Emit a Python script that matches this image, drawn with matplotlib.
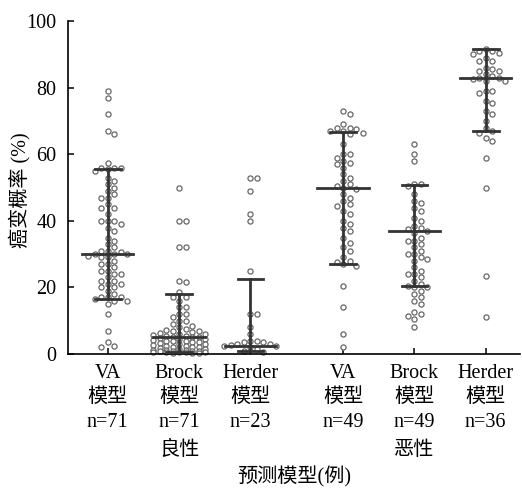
import numpy as np
import matplotlib.pyplot as plt
from matplotlib.transforms import blended_transform_factory

plt.rcParams['font.family'] = ['Liberation Serif', 'Noto Sans CJK SC']
plt.rcParams['font.size'] = 14.5

# 模型与样本数
models = ['VA', 'Brock', 'Herder', 'VA', 'Brock', 'Herder']
counts = [71, 71, 23, 49, 49, 36]
groups = ['良性', '恶性']
positions = [0, 1, 2, 3.3, 4.3, 5.3]

# 中位数和四分位范围
medians = [30, 5.2, 2.5, 49.8, 37, 83]
lower = [16.6, 0.5, 0.8, 27, 20.4, 67]
upper = [55.6, 17.9, 22.4, 66.6, 50.9, 91.5]

va_benign = [79, 77, 72, 67, 66, 57.5, 56, 56, 56, 55.5, 55, 53, 52, 51, 50, 49, 48, 47, 47,
             45, 44, 44, 42, 40, 40, 40, 39, 38, 37, 35, 34, 33, 32, 31, 31, 30.5, 30, 30, 30,
             29.5, 29, 29, 28, 27, 27, 26, 25, 25, 24, 24, 23, 22, 22, 21, 21, 20, 20, 19, 18,
             17, 17, 17, 16.5, 16, 16, 15, 12, 7, 3.5, 2.5, 2]
brock_benign = [50, 40, 40, 32, 32, 22, 21.5, 18.5, 17, 17, 16, 14, 14, 12, 12, 11, 10, 10, 9,
                8.5, 8, 7.5, 7.2, 7, 6.8, 6.5, 6.3, 6, 6, 5.8, 5.5, 5.5, 5.2, 5, 5, 4.8, 4.5,
                4.5, 4.2, 4, 4, 3.8, 3.5, 3.5, 3.2, 3, 3, 2.8, 2.5, 2.5, 2.2, 2, 2, 1.8, 1.6,
                1.5, 1.3, 1.2, 1.1, 1, 0.9, 0.8, 0.8, 0.7, 0.6, 0.6, 0.5, 0.5, 0.4, 0.3, 0.2]
herder_benign = [53, 53, 49, 42, 40, 25, 12, 12, 8, 6, 4, 4, 3.5, 3.5, 3, 3, 2.8, 2.5, 2.5,
                 2, 1.5, 1, 0.5]
va_malig = [73, 72, 69, 68, 68, 67.5, 67, 67, 66.5, 66, 63, 60, 60, 59, 58, 57.5, 57, 56, 54,
            53, 52, 51, 50.5, 50, 49.5, 48, 47, 46, 45, 44.5, 43, 42, 40, 39, 38, 37, 35, 33.5,
            32, 31, 29, 28, 27.5, 27, 26.5, 20.5, 14, 6, 2]
brock_malig = [63, 60, 58, 51, 51, 50.5, 48, 46, 45.5, 44, 43, 41, 40, 38.5, 38, 37.5, 37,
               36.5, 35, 34, 34, 33, 32, 31, 30, 30, 29, 28.5, 28, 26, 25, 24, 24, 23, 22, 21,
               20.5, 20, 20, 19, 18, 17, 16, 15, 12.5, 12, 11.5, 10.5, 8]
herder_malig = [91.5, 91, 91, 90.5, 90, 89, 88, 88, 86, 85.5, 85, 85, 84, 83.5, 83, 83, 82.5,
                82, 82, 79, 79, 78.5, 76, 75.5, 73, 72, 70, 68, 67, 66.5, 65, 64, 59, 50,
                23.5, 11]
all_data = [va_benign, brock_benign, herder_benign, va_malig, brock_malig, herder_malig]


def swarm(vals_px, d, step, max_w):
    # 简单的蜂群排布, 返回像素偏移; 超出宽度时允许重叠
    placed = []
    offs = []
    nk = int(max_w // step)
    cands = [0.0]
    for k in range(1, nk + 1):
        cands += [k * step, -k * step]
    for v in vals_px:
        best, best_d = 0.0, -1
        for c in cands:
            md = min([np.hypot(c - px, v - py) for px, py in placed] + [1e9])
            if md >= d:
                best = c
                break
            if md > best_d:
                best, best_d = c, md
        placed.append((best, v))
        offs.append(best)
    return np.array(offs)


fig = plt.figure(figsize=(5.22, 4.88), dpi=100)
ax = fig.add_axes([0.130, 0.2746, 0.866, 0.682])
ax.set_xlim(-0.56, 5.78)
ax.set_ylim(0, 100)

sx = ax.bbox.width / (5.78 + 0.56)
sy = ax.bbox.height / 100

for pos, vals in zip(positions, all_data):
    vals = np.array(vals, dtype=float)
    offs = swarm(vals * sy, 6.5, 6.5, 28) / sx
    ax.plot(pos + offs, vals, 'o', ms=3.7, mfc='white', mec='#666666', mew=0.9,
            ls='none', zorder=2, clip_on=False)

for pos, med, lo, hi in zip(positions, medians, lower, upper):
    ax.plot([pos, pos], [lo, hi], color='#333333', lw=2, zorder=3)
    ax.plot([pos - 0.18, pos + 0.18], [hi, hi], color='#333333', lw=2, zorder=3)
    ax.plot([pos - 0.18, pos + 0.18], [lo, lo], color='#333333', lw=2, zorder=3)
    ax.plot([pos - 0.36, pos + 0.36], [med, med], color='#333333', lw=2, zorder=3)

ax.set_xticks(positions)
ax.set_xticklabels([f'{m}\n模型\nn={c}' for m, c in zip(models, counts)],
                   linespacing=1.4, va='top')
ax.set_yticks(range(0, 101, 20))
ax.tick_params(axis='both', direction='in', length=4.5, width=1.1)
ax.tick_params(axis='x', pad=7)
ax.tick_params(axis='y', pad=8)
for s in ['top', 'right']:
    ax.spines[s].set_visible(False)
for s in ['left', 'bottom']:
    ax.spines[s].set_linewidth(1.2)

tr = blended_transform_factory(ax.transData, ax.transAxes)
ax.text(positions[1], -0.29, groups[0], transform=tr, ha='center', va='center')
ax.text(positions[4], -0.29, groups[1], transform=tr, ha='center', va='center')
ax.text(0.5, -0.37, '预测模型(例)', transform=ax.transAxes, ha='center', va='center')
fig.text(20 / 522, 1 - 190 / 488, '癌变概率 (%)', rotation=90, ha='center', va='center')

fig.savefig('out.png', dpi=100)
